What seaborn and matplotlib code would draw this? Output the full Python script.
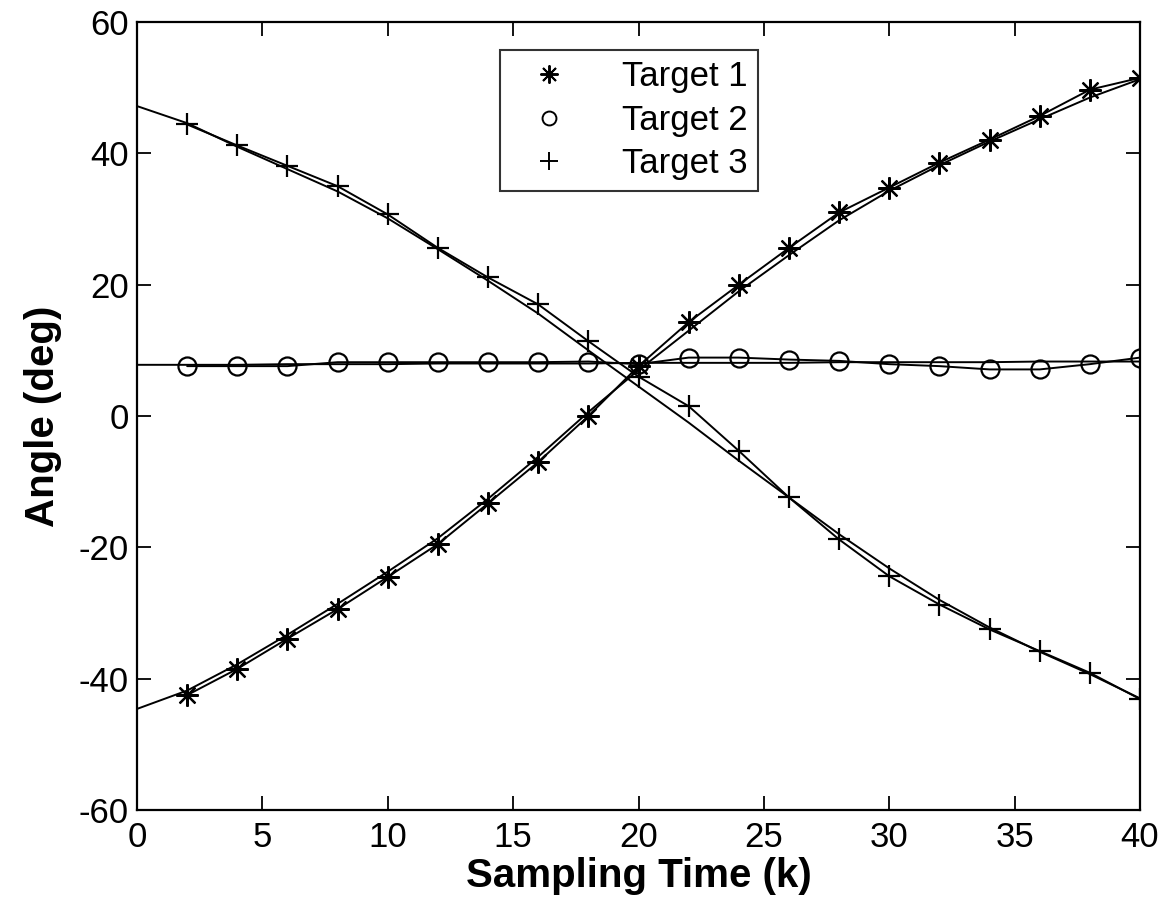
import numpy as np
import pandas as pd
import matplotlib.pyplot as plt
import seaborn as sns
from matplotlib.lines import Line2D

# sampling instants
k_true = [0, 2, 4, 6, 8, 10, 12, 14, 16, 18, 20, 22, 24, 26, 28, 30, 32, 34, 36, 38, 40]
k_est = [2, 4, 6, 8, 10, 12, 14, 16, 18, 20, 22, 24, 26, 28, 30, 32, 34, 36, 38, 40]

# true bearing trajectories (deg)
t1_true = [-44.6, -41.8, -37.8, -33.3, -28.6, -23.7, -18.6, -12.6, -6.2, 0.6, 7.0,
           13.0, 19.0, 24.5, 29.8, 34.3, 38.2, 41.8, 45.2, 48.5, 51.3]
t2_true = [7.8, 7.8, 7.8, 7.9, 7.9, 7.9, 8.0, 8.0, 8.0, 8.0, 8.1,
           8.1, 8.1, 8.1, 8.2, 8.2, 8.2, 8.2, 8.3, 8.3, 8.3]
t3_true = [47.2, 44.6, 41.0, 37.6, 34.2, 30.1, 25.4, 20.6, 15.6, 10.0, 4.5,
           -1.0, -6.8, -12.4, -18.0, -23.2, -28.0, -32.2, -35.9, -39.3, -43.0]

# estimated bearings (deg)
t1_est = [-42.5, -38.5, -33.9, -29.4, -24.5, -19.5, -13.3, -7.0, 0.0, 7.6,
          14.3, 20.0, 25.6, 31.0, 34.8, 38.6, 42.1, 45.7, 49.7, 51.5]
t2_est = [7.6, 7.6, 7.6, 8.2, 8.2, 8.2, 8.2, 8.2, 8.3, 7.9,
          8.9, 8.9, 8.6, 8.4, 7.9, 7.6, 7.1, 7.1, 7.9, 8.9]
t3_est = [44.4, 41.2, 38.1, 35.0, 30.7, 25.6, 21.1, 17.0, 11.4, 6.0,
          1.5, -5.3, -12.4, -18.8, -24.4, -28.7, -32.5, -35.8, -39.1, -43.1]

labels = ["Target 1", "Target 2", "Target 3"]
asterisk = (8, 2, 0)  # matlab style '*'
markers = [asterisk, "o", "+"]
msizes = [16, 13, 16]

sns.set_style("ticks")
plt.rcParams['font.family'] = ['Liberation Sans', 'DejaVu Sans']
plt.rcParams['axes.unicode_minus'] = False
plt.rcParams['text.color'] = 'black'
plt.rcParams['axes.labelcolor'] = 'black'
plt.rcParams['xtick.color'] = 'black'
plt.rcParams['ytick.color'] = 'black'

fig = plt.figure(figsize=(11.73, 9.18), dpi=100)
ax = fig.add_axes([0.1168, 0.1176, 0.8551, 0.8584])

for tr, es, mk, ms in zip([t1_true, t2_true, t3_true], [t1_est, t2_est, t3_est], markers, msizes):
    sns.lineplot(x=k_true, y=tr, ax=ax, color="black", lw=1.4)
    sns.lineplot(x=k_est, y=es, ax=ax, color="black", lw=1.4, marker=mk,
                 markersize=ms, markerfacecolor="none",
                 markeredgecolor="black", markeredgewidth=1.6)

ax.set_xlim(0, 40)
ax.set_ylim(-60, 60)
ax.set_xticks(np.arange(0, 41, 5))
ax.set_yticks(np.arange(-60, 61, 20))
ax.tick_params(direction="in", length=10, width=1.3, labelsize=25,
               top=True, right=True)
ax.tick_params(axis="x", pad=8)
ax.tick_params(axis="y", pad=6)
for s in ax.spines.values():
    s.set_linewidth(1.6)
    s.set_color("black")
ax.set_xlabel("Sampling Time (k)", fontsize=29, fontweight="bold", labelpad=2)
ax.set_ylabel("Angle (deg)", fontsize=29, fontweight="bold", labelpad=12)

handles = [Line2D([], [], ls="none", marker=m, color="black", markerfacecolor="none",
                  markersize=s - 3, markeredgewidth=1.4) for m, s in zip(markers, msizes)]
leg = ax.legend(handles, labels, loc="upper left", bbox_to_anchor=(0.362, 0.9645),
                fontsize=25, frameon=True, fancybox=False, edgecolor="black",
                handletextpad=1.0, borderpad=0.3, labelspacing=0.3, handlelength=2.2,
                borderaxespad=0)
leg.get_frame().set_linewidth(1.5)

fig.savefig("out.png", dpi=100)
